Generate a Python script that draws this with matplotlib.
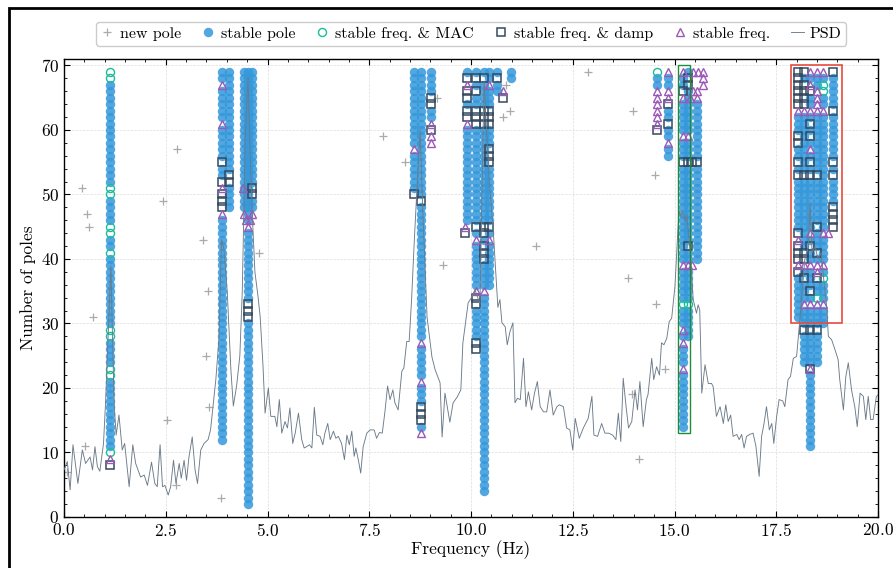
import numpy as np
import matplotlib
matplotlib.use("Agg")
import matplotlib.pyplot as plt
from matplotlib.patches import Rectangle

plt.rcParams["font.family"] = "serif"
plt.rcParams["font.serif"] = ["cmr10"]
plt.rcParams["mathtext.fontset"] = "cm"
plt.rcParams["axes.formatter.use_mathtext"] = True
plt.rcParams["axes.unicode_minus"] = False

# -- data ---------------------------------------------------------------
# stable pole columns: (frequency Hz, lowest order, highest order)
stable_cols = [
    (1.13, 8, 69), (3.88, 12, 69), (4.05, 48, 69),
    (4.42, 47, 69), (4.52, 2, 69), (4.62, 47, 69),
    (8.60, 50, 69), (8.77, 13, 69), (9.02, 58, 69),
    (9.90, 46, 69), (10.12, 26, 69), (10.32, 4, 69), (10.45, 36, 69),
    (10.64, 66, 69), (10.98, 68, 69),
    (14.57, 60, 69), (14.84, 56, 69),
    (15.20, 14, 69), (15.32, 28, 69), (15.55, 40, 66),
    (18.04, 31, 69), (18.19, 24, 69), (18.34, 11, 69),
    (18.50, 24, 69), (18.66, 30, 69), (18.90, 45, 69),
]

new_poles = [
    (0.07, 7), (0.44, 51), (0.52, 11), (0.56, 47), (0.62, 45), (0.71, 31),
    (2.43, 49), (2.53, 15), (2.75, 5), (2.78, 57), (3.42, 43), (3.49, 25),
    (3.54, 35), (3.56, 17), (3.86, 3), (4.79, 41), (7.84, 59), (8.38, 55),
    (9.16, 65), (9.31, 39), (10.79, 62), (10.86, 67), (10.96, 63), (11.60, 42),
    (12.87, 69), (13.85, 37), (13.96, 19), (13.98, 63), (14.13, 9), (14.52, 53),
    (14.55, 33), (14.77, 23),
]

mac_poles = [
    (1.13, 10), (1.13, 22), (1.13, 23), (1.13, 28), (1.13, 29), (1.13, 41),
    (1.13, 44), (1.13, 45), (1.13, 50), (1.13, 51), (1.13, 68), (1.13, 69),
    (14.57, 69), (15.20, 33), (15.32, 33),
    (18.66, 67), (18.66, 66), (18.66, 37), (18.50, 34),
]

damp_poles = [
    (1.13, 8),
    (3.88, 55), (3.88, 52), (3.88, 50), (3.88, 49), (3.88, 48), (4.05, 53), (4.05, 52),
    (4.62, 51), (4.62, 50), (4.52, 33), (4.52, 32), (4.52, 31),
    (8.60, 50), (8.77, 49), (8.77, 17), (8.77, 16), (8.77, 15),
    (9.02, 65), (9.02, 64), (9.02, 60),
    (9.90, 68), (10.12, 68), (10.32, 68), (10.64, 68), (9.90, 66), (10.12, 66),
    (9.90, 65), (9.90, 63), (10.12, 63), (9.90, 62), (10.12, 62), (10.12, 61),
    (10.32, 63), (10.45, 63), (10.32, 62), (10.45, 62), (10.32, 61), (10.45, 61),
    (10.45, 57), (10.45, 56), (10.45, 55), (9.85, 44), (10.12, 45), (10.32, 45),
    (10.45, 45), (10.32, 44), (10.32, 42), (10.32, 41), (10.32, 40),
    (10.12, 34), (10.12, 33), (10.12, 27), (10.12, 26), (10.79, 65),
    (14.57, 60), (14.84, 64), (14.84, 61),
    (15.32, 68), (15.32, 67), (15.20, 66), (15.20, 55), (15.32, 55), (15.43, 55),
    (15.55, 55), (15.32, 42),
    (18.04, 69), (18.04, 68), (18.04, 67), (18.04, 66), (18.04, 65), (18.04, 64),
    (18.04, 59), (18.04, 58), (18.04, 55), (18.04, 53), (18.04, 44), (18.04, 42),
    (18.04, 41), (18.04, 40), (18.04, 38),
    (18.19, 69), (18.19, 67), (18.19, 66), (18.19, 65), (18.19, 64), (18.19, 53),
    (18.19, 41), (18.19, 40), (18.19, 37), (18.19, 29),
    (18.34, 66), (18.34, 61), (18.34, 59), (18.34, 55), (18.34, 53), (18.34, 42),
    (18.34, 35), (18.34, 29), (18.34, 23),
    (18.50, 53), (18.50, 45), (18.50, 41), (18.50, 37), (18.50, 29),
    (18.90, 69), (18.90, 63), (18.90, 55), (18.90, 53), (18.90, 48), (18.90, 47),
    (18.90, 46), (18.90, 45),
]

freq_poles = [
    (1.13, 9),
    (3.88, 67), (3.88, 61), (3.88, 51), (3.88, 47),
    (4.40, 51), (4.42, 47), (4.62, 47), (4.47, 46), (4.57, 46), (4.52, 45),
    (8.60, 57), (8.77, 27), (8.77, 21), (8.77, 13), (9.02, 61), (9.02, 59), (9.02, 58),
    (9.90, 67), (10.45, 67), (9.90, 61), (10.79, 66), (9.85, 45), (10.12, 43),
    (10.45, 43), (10.12, 35), (10.32, 35),
    (14.57, 66), (14.57, 65), (14.57, 64), (14.57, 63), (14.57, 62), (14.57, 61),
    (14.84, 69), (14.84, 66), (14.84, 65), (14.84, 58),
    (15.20, 69), (15.45, 69), (15.58, 69), (15.70, 69), (15.70, 68), (15.70, 67),
    (15.45, 66), (15.55, 66), (15.20, 65), (15.38, 65), (15.55, 65),
    (15.20, 59), (15.32, 59), (15.20, 39), (15.32, 39), (15.43, 39),
    (15.20, 29), (15.20, 27), (15.20, 23),
    (18.04, 63), (18.04, 43), (18.04, 39),
    (18.19, 63), (18.19, 39), (18.19, 33),
    (18.34, 69), (18.34, 67), (18.34, 63), (18.34, 57), (18.34, 44), (18.34, 39),
    (18.34, 33), (18.34, 23),
    (18.50, 69), (18.50, 66), (18.50, 65), (18.50, 64), (18.50, 63), (18.50, 39),
    (18.50, 38), (18.50, 33),
    (18.66, 69), (18.66, 63), (18.66, 44), (18.66, 39), (18.66, 33), (18.76, 44),
]

psd_freq = [
    0.00, 0.08, 0.15, 0.22, 0.34, 0.45, 0.53, 0.64, 0.70, 0.76, 0.82, 0.88, 0.97,
    1.02, 1.15, 1.23, 1.28, 1.35, 1.43, 1.49, 1.60, 1.69, 1.76, 1.88, 1.97, 2.05,
    2.15, 2.23, 2.29, 2.36, 2.42, 2.48, 2.56, 2.62, 2.69, 2.75, 2.83, 2.88, 2.95,
    3.01, 3.07, 3.15, 3.22, 3.28, 3.36, 3.44, 3.54, 3.60, 3.73, 3.81, 3.87, 3.93,
    4.01, 4.10, 4.16, 4.24, 4.32, 4.38, 4.45, 4.52, 4.58, 4.62, 4.69, 4.77, 4.82,
    4.89, 4.94, 5.02, 5.08, 5.18, 5.23, 5.29, 5.35, 5.43, 5.49, 5.55, 5.62, 5.68,
    5.76, 5.84, 5.90, 5.96, 6.03, 6.09, 6.15, 6.21, 6.29, 6.36, 6.41, 6.48, 6.54,
    6.62, 6.68, 6.74, 6.82, 6.89, 6.95, 7.01, 7.07, 7.13, 7.17, 7.23, 7.29, 7.35,
    7.44, 7.52, 7.62, 7.68, 7.75, 7.82, 7.89, 7.95, 8.01, 8.08, 8.13, 8.21, 8.30,
    8.35, 8.42, 8.48, 8.54, 8.60, 8.67, 8.75, 8.82, 8.92, 9.04, 9.12, 9.24, 9.29,
    9.36, 9.48, 9.56, 9.66, 9.75, 9.80, 9.93, 10.02, 10.10, 10.22, 10.32, 10.45,
    10.55, 10.66, 10.71, 10.76, 10.84, 10.89, 10.96, 11.03, 11.08, 11.14, 11.21,
    11.29, 11.35, 11.41, 11.49, 11.56, 11.63, 11.70, 11.78, 11.86, 11.94, 12.02,
    12.11, 12.17, 12.27, 12.35, 12.43, 12.50, 12.56, 12.66, 12.76, 12.88, 12.97,
    13.02, 13.11, 13.21, 13.29, 13.38, 13.48, 13.56, 13.62, 13.68, 13.74, 13.81,
    13.87, 13.95, 14.03, 14.09, 14.15, 14.23, 14.31, 14.35, 14.44, 14.49, 14.56,
    14.63, 14.68, 14.74, 14.81, 14.87, 14.93, 15.01, 15.11, 15.15, 15.20, 15.26,
    15.30, 15.33, 15.38, 15.46, 15.54, 15.58, 15.62, 15.67, 15.75, 15.83, 15.91,
    15.95, 16.03, 16.12, 16.20, 16.26, 16.32, 16.38, 16.44, 16.53, 16.59, 16.65,
    16.71, 16.77, 16.85, 16.93, 17.00, 17.08, 17.14, 17.20, 17.26, 17.33, 17.39,
    17.44, 17.51, 17.57, 17.66, 17.71, 17.79, 17.85, 17.92, 18.00, 18.08, 18.20,
    18.29, 18.33, 18.38, 18.45, 18.53, 18.60, 18.70, 18.74, 18.78, 18.86, 18.94,
    19.02, 19.06, 19.15, 19.21, 19.27, 19.35, 19.43, 19.49, 19.56, 19.64, 19.70,
    19.76, 19.82, 19.88, 19.96, 20.02,
]
psd_val = [
    7.3, 8.6, 4.2, 11.2, 5.2, 10.4, 8.3, 9.3, 7.3, 10.9, 7.8, 7.1, 11.4,
    17.7, 38.9, 17.7, 12.7, 15.8, 10.4, 11.4, 4.7, 11.2, 8.3, 6.2, 6.5, 4.9,
    8.5, 5.2, 4.7, 11.2, 4.7, 4.9, 3.4, 4.7, 8.8, 5.2, 8.3, 6.0, 8.8,
    5.7, 9.3, 12.4, 7.3, 5.2, 10.4, 11.4, 12.0, 13.5, 21.3, 28.0, 43.0, 41.5,
    35.0, 22.8, 17.2, 20.3, 25.0, 35.0, 58.0, 68.2, 55.0, 47.6, 38.0, 34.0, 31.0,
    23.3, 16.1, 20.0, 15.6, 15.6, 14.0, 18.2, 13.0, 14.8, 13.8, 16.9, 11.4, 13.0,
    16.1, 12.0, 10.7, 10.9, 11.2, 10.7, 17.0, 12.7, 12.5, 11.2, 13.0, 14.5, 12.0,
    13.3, 12.2, 12.5, 11.4, 8.9, 12.7, 11.2, 13.3, 9.4, 10.7, 8.9, 6.8, 10.9,
    13.0, 13.5, 13.5, 12.2, 13.1, 13.0, 16.6, 20.3, 18.2, 19.7, 17.7, 16.6, 22.6,
    23.1, 27.2, 27.2, 33.7, 42.0, 50.7, 60.0, 46.6, 31.0, 24.8, 22.8, 20.8, 12.4,
    19.2, 14.7, 17.7, 18.6, 19.7, 27.0, 33.2, 34.1, 35.2, 33.0, 67.5, 52.0,
    44.0, 32.5, 33.7, 30.1, 29.5, 26.7, 28.8, 30.1, 17.7, 18.4, 18.2,
    24.6, 17.1, 19.4, 16.6, 19.2, 21.0, 17.1, 16.3, 16.3, 19.7, 15.8,
    17.1, 17.4, 17.1, 13.8, 13.5, 10.4, 15.3, 12.2, 13.8, 15.3, 18.7,
    12.7, 12.5, 14.5, 13.0, 13.0, 12.7, 12.0, 16.1, 11.7, 21.5, 17.1,
    13.8, 14.8, 19.7, 16.6, 21.0, 14.0, 18.2, 19.0, 24.6, 21.3, 23.3,
    22.0, 27.0, 26.7, 27.7, 30.3, 30.8, 35.7, 47.6, 46.6, 47.3, 45.9,
    46.7, 44.9, 41.4, 33.7, 31.6, 32.9, 32.1, 19.2, 23.6, 20.7, 20.7,
    20.2, 15.6, 17.1, 14.5, 17.4, 14.8, 15.8, 12.5, 12.8, 12.0, 12.8,
    10.7, 12.5, 12.8, 13.0, 11.0, 6.3, 12.5, 14.5, 17.1, 13.5, 14.5,
    11.4, 15.6, 18.2, 18.0, 17.1, 21.3, 21.8, 24.6, 24.9, 30.6, 39.9,
    41.9, 48.7, 41.0, 41.9, 40.0, 41.0, 34.8, 32.6, 28.0, 27.5, 26.0,
    24.4, 21.3, 16.6, 21.8, 23.9, 19.7, 17.1, 14.0, 19.2, 18.7, 15.1,
    18.7, 15.1, 15.1, 18.7, 19.0,
]

green_box = (15.08, 13.0, 0.31, 57.1)   # x, y, width, height
red_box = (17.86, 30.1, 1.26, 40.0)

# -- colours ------------------------------------------------------------
c_new = "#aaaaaa"
c_stable = "#3498db"
c_mac = "#1abc9c"
c_damp = "#34495e"
c_freq = "#9b59b6"
c_psd = "#6c7a89"

# -- build stable pole set (specials replace the plain stable pole) ------
special = {(round(f, 2), n) for f, n in mac_poles + damp_poles + freq_poles}
sf, sn = [], []
for f, lo, hi in stable_cols:
    for n in range(lo, hi + 1):
        if (round(f, 2), n) not in special:
            sf.append(f)
            sn.append(n)

fig = plt.figure(figsize=(8.93, 5.68), dpi=100)
ax = fig.add_axes([0.0717, 0.0898, 0.9115, 0.8063])

nf, nn = zip(*new_poles)
ax.plot(nf, nn, ls="none", marker="+", ms=5.5, mew=0.9, color=c_new,
        label="new pole", zorder=2)
ax.plot(sf, sn, ls="none", marker="o", ms=6.8, mew=0, color=c_stable,
        alpha=0.85, label="stable pole", zorder=2)
mf, mn = zip(*mac_poles)
ax.plot(mf, mn, ls="none", marker="o", ms=5.8, mfc="none", mew=1.0,
        color=c_mac, label="stable freq. & MAC", zorder=3)
df, dn = zip(*damp_poles)
ax.plot(df, dn, ls="none", marker="s", ms=5.8, mfc="none", mew=1.1,
        color=c_damp, label="stable freq. & damp", zorder=3)
ff, fn = zip(*freq_poles)
ax.plot(ff, fn, ls="none", marker="^", ms=6.2, mfc="none", mew=1.0,
        color=c_freq, label="stable freq.", zorder=3)
ax.plot(psd_freq, psd_val, color=c_psd, lw=0.65, label="PSD", zorder=4)

ax.add_patch(Rectangle(green_box[:2], green_box[2], green_box[3], fill=False,
                       ec="#1e8c3a", lw=1.0, zorder=5))
ax.add_patch(Rectangle(red_box[:2], red_box[2], red_box[3], fill=False,
                       ec="#e74c3c", lw=1.2, zorder=5))

# -- axes styling -------------------------------------------------------
ax.set_xlim(0, 20)
ax.set_ylim(0, 71)
ax.set_xticks(np.arange(0, 20.1, 2.5))
ax.set_xticks(np.arange(0, 20.1, 0.5), minor=True)
ax.set_yticks(np.arange(0, 71, 10))
ax.set_yticks(np.arange(0, 71, 2), minor=True)
ax.tick_params(which="both", direction="in", top=True, right=True, labelsize=12.5)
ax.tick_params(which="major", length=4, width=0.8)
ax.tick_params(which="minor", length=2, width=0.6)
ax.grid(True, which="major", ls="--", lw=0.5, color="#dddddd", zorder=0)
ax.set_axisbelow(True)
for s in ax.spines.values():
    s.set_linewidth(1.0)

ax.set_xlabel("Frequency (Hz)", fontsize=12.5, labelpad=1)
ax.set_ylabel("Number of poles", fontsize=12.5, labelpad=3)

ax.legend(loc="lower center", bbox_to_anchor=(0.5, 1.012), ncol=6,
          fontsize=11.5, numpoints=1, handlelength=0.8, handletextpad=0.4,
          columnspacing=1.3, borderpad=0.3, edgecolor="#cccccc",
          fancybox=True, framealpha=1)

# -- outer frame (cropped on the right and bottom) -----------------------
fig.add_artist(Rectangle((9 / 893, -0.05), 1.2, 1 - 8 / 568 + 0.05,
                         transform=fig.transFigure, fill=False, ec="black",
                         lw=2, clip_on=False))

fig.savefig("out.png", dpi=100)
